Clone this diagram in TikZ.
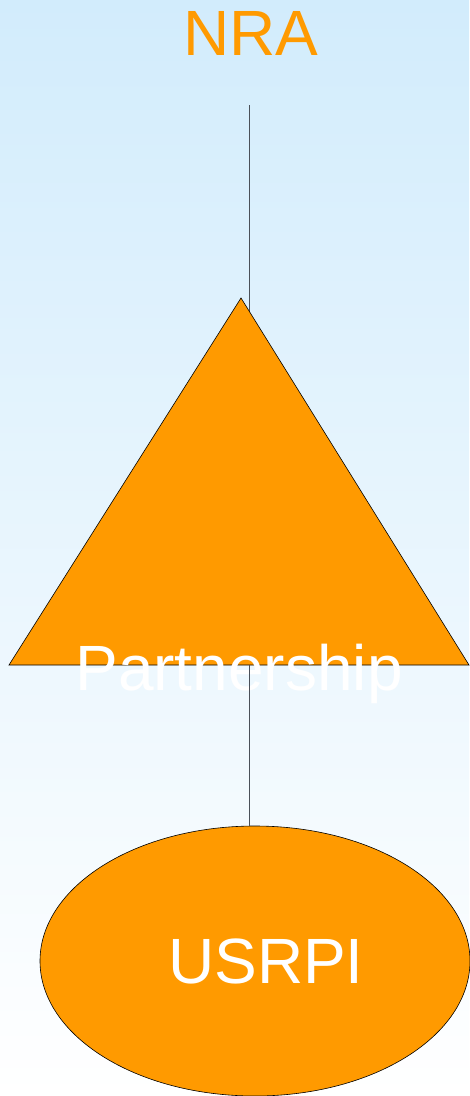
\documentclass[tikz,border=0pt]{standalone}
\usepackage{fontspec}
\setmainfont{Liberation Sans}
\usepackage{tikz}
\usetikzlibrary{shapes.geometric}
\definecolor{bgblue}{HTML}{D2ECFC}
\definecolor{shapeorange}{HTML}{FF9A00}
\definecolor{stemgray}{HTML}{4A5058}
\newcommand{\bigtext}{\fontsize{64}{76}\selectfont}

\begin{document}
\begin{tikzpicture}[x=1pt,y=-1pt,
  stem/.style={draw=stemgray,line width=1pt},
  word/.style={inner sep=0pt,anchor=base,font=\bigtext},
  shapebox/.style={draw=black,line width=0.6pt,fill=shapeorange}]
 \shade[top color=bgblue,bottom color=white] (0,0) rectangle (469,1096);
 \useasboundingbox (0,0) rectangle (469,1096);
 \node[word,text=shapeorange] (nra) at (251,55) {NRA};
 \coordinate (nra stem) at (249,105);
 \coordinate (tri apex) at (241,298);
 \coordinate (tri left) at (9,665);
 \coordinate (tri right) at (469,665);
 \coordinate (tri base) at (249,665);
 \draw[stem] (nra stem) -- (tri base);
 \draw[shapebox] (tri apex) -- (tri right) -- (tri left) -- cycle;
 \node[word,text=white] (partnership) at (239,690) {Partnership};
 \node[shapebox,ellipse,minimum width=430pt,minimum height=270pt,inner sep=0pt] (usrpi) at (255,961) {};
 \draw[stem] (tri base) -- (usrpi.north -| tri base);
 \node[word,text=white] (usrpi text) at (266,983) {USRPI};
\end{tikzpicture}
\end{document}
